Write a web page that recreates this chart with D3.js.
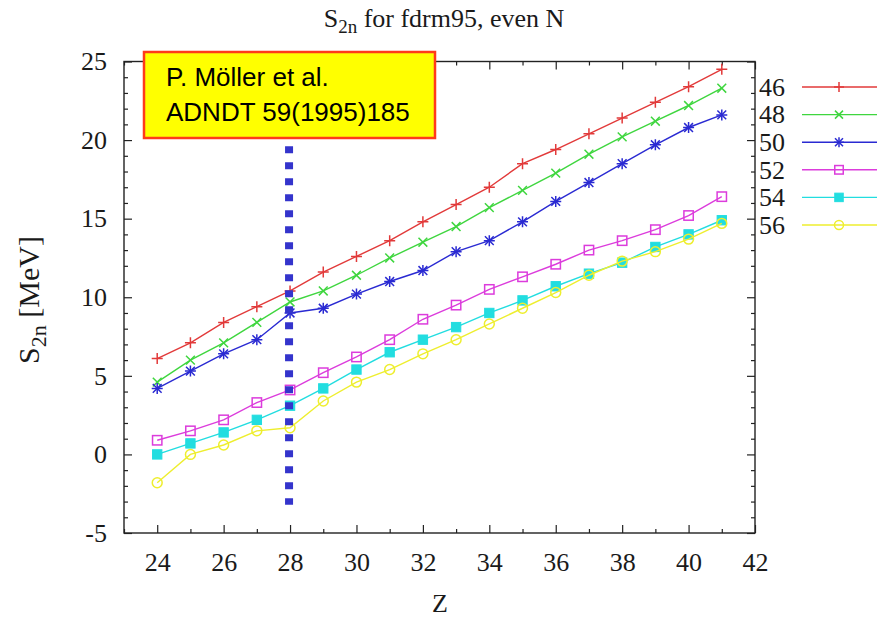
<!DOCTYPE html>
<html>
<head>
<meta charset="utf-8">
<script src="https://cdn.jsdelivr.net/npm/d3@7"></script>
<style>
  html, body { margin: 0; padding: 0; background: #ffffff; }
  svg { display: block; }
  .serif { font-family: "Liberation Serif", "DejaVu Serif", serif; fill: #1a1a1a; }
</style>
</head>
<body>
<svg id="chart" width="878" height="618"></svg>
<script>
// Proton number Z (even-N chains)
const zValues = [24, 25, 26, 27, 28, 29, 30, 31, 32, 33, 34, 35, 36, 37, 38, 39, 40, 41];

// Two-neutron separation energies S2n [MeV], FRDM95, one array per neutron number
const n46 = [6.1, 7.1, 8.4, 9.4, 10.4, 11.6, 12.6, 13.6, 14.8, 15.9, 17.0, 18.5, 19.4, 20.4, 21.4, 22.4, 23.4, 24.5];
const n48 = [4.6, 6.0, 7.1, 8.4, 9.7, 10.4, 11.4, 12.5, 13.5, 14.5, 15.7, 16.8, 17.9, 19.1, 20.2, 21.2, 22.2, 23.3];
const n50 = [4.2, 5.3, 6.4, 7.3, 9.0, 9.3, 10.2, 11.0, 11.7, 12.9, 13.6, 14.8, 16.1, 17.3, 18.5, 19.7, 20.8, 21.6];
const n52 = [0.9, 1.5, 2.2, 3.3, 4.1, 5.2, 6.2, 7.3, 8.6, 9.5, 10.5, 11.3, 12.1, 13.0, 13.6, 14.3, 15.2, 16.4];
const n54 = [0.0, 0.7, 1.4, 2.2, 3.1, 4.2, 5.4, 6.5, 7.3, 8.1, 9.0, 9.8, 10.7, 11.5, 12.2, 13.2, 14.0, 14.9];
const n56 = [-1.8, 0.0, 0.6, 1.5, 1.7, 3.4, 4.6, 5.4, 6.4, 7.3, 8.3, 9.3, 10.3, 11.4, 12.3, 12.9, 13.7, 14.7];

const seriesLabels = ["46", "48", "50", "52", "54", "56"];
const seriesValues = [n46, n48, n50, n52, n54, n56];

// Axis ticks
const xMajorTicks = [24, 26, 28, 30, 32, 34, 36, 38, 40, 42];
const xMinorTicks = [23, 25, 27, 29, 31, 33, 35, 37, 39, 41];
const yMajorTicks = [-5, 0, 5, 10, 15, 20, 25];
const yMinorTicks = [-4, -3, -2, -1, 1, 2, 3, 4, 6, 7, 8, 9, 11, 12, 13, 14, 16, 17, 18, 19, 21, 22, 23, 24];

// Marked proton number (vertical dotted marker) and its extent in MeV
const markerZ = 28;
const markerRange = [-3.2, 19.6];

const titleMain = "S";
const titleSub = "2n";
const titleRest = " for fdrm95, even N";
const refLines = ["P. Möller et al.", "ADNDT 59(1995)185"];

// ---- styling ----
const colors = ["#e23a3a", "#3fd63f", "#2a2ad2", "#dc3cdc", "#22dde0", "#eeee2e"];
const symbols = ["plus", "cross", "star", "square", "squareFilled", "circle"];
const FONT = 26;

const svg = d3.select("#chart");
const plot = { left: 124, right: 755, top: 61.5, bottom: 533 };

const x = d3.scaleLinear().domain([23, 42]).range([plot.left, plot.right]);
const y = d3.scaleLinear().domain([-5, 25]).range([plot.bottom, plot.top]);

const plainNumber = d => String(d);

// ---- axes (ticks inward, mirrored on top/right) ----
function styleAxis(g) {
  g.select(".domain").remove();
  g.selectAll(".tick line").attr("stroke", "#222").attr("stroke-width", 1.2);
  g.selectAll(".tick text")
    .attr("class", "serif")
    .style("font-family", "'Liberation Serif', 'DejaVu Serif', serif")
    .style("font-size", FONT + "px")
    .attr("fill", "#1a1a1a");
}

svg.append("g").attr("transform", `translate(0,${plot.bottom})`)
  .call(d3.axisBottom(x).tickValues(xMajorTicks).tickSizeInner(-8).tickSizeOuter(0).tickPadding(20).tickFormat(plainNumber))
  .call(styleAxis);
svg.append("g").attr("transform", `translate(0,${plot.bottom})`)
  .call(d3.axisBottom(x).tickValues(xMinorTicks).tickSizeInner(-4).tickSizeOuter(0).tickFormat(""))
  .call(styleAxis);
svg.append("g").attr("transform", `translate(0,${plot.top})`)
  .call(d3.axisTop(x).tickValues(xMajorTicks).tickSizeInner(-8).tickSizeOuter(0).tickFormat(""))
  .call(styleAxis);
svg.append("g").attr("transform", `translate(0,${plot.top})`)
  .call(d3.axisTop(x).tickValues(xMinorTicks).tickSizeInner(-4).tickSizeOuter(0).tickFormat(""))
  .call(styleAxis);

svg.append("g").attr("transform", `translate(${plot.left},0)`)
  .call(d3.axisLeft(y).tickValues(yMajorTicks).tickSizeInner(-8).tickSizeOuter(0).tickPadding(17).tickFormat(plainNumber))
  .call(styleAxis);
svg.append("g").attr("transform", `translate(${plot.left},0)`)
  .call(d3.axisLeft(y).tickValues(yMinorTicks).tickSizeInner(-4).tickSizeOuter(0).tickFormat(""))
  .call(styleAxis);
svg.append("g").attr("transform", `translate(${plot.right},0)`)
  .call(d3.axisRight(y).tickValues(yMajorTicks).tickSizeInner(-8).tickSizeOuter(0).tickFormat(""))
  .call(styleAxis);
svg.append("g").attr("transform", `translate(${plot.right},0)`)
  .call(d3.axisRight(y).tickValues(yMinorTicks).tickSizeInner(-4).tickSizeOuter(0).tickFormat(""))
  .call(styleAxis);

// frame
svg.append("rect")
  .attr("x", plot.left).attr("y", plot.top)
  .attr("width", plot.right - plot.left).attr("height", plot.bottom - plot.top)
  .attr("fill", "none").attr("stroke", "#222").attr("stroke-width", 1.4);

// ---- point symbols ----
function drawSymbol(g, type, cx, cy, color, s) {
  const h = s / 2;
  if (type === "plus" || type === "star") {
    g.append("path").attr("d", `M${cx - h},${cy}H${cx + h}M${cx},${cy - h}V${cy + h}`)
      .attr("stroke", color).attr("stroke-width", 1.5).attr("fill", "none");
  }
  if (type === "cross" || type === "star") {
    const d = h * 0.8;
    g.append("path").attr("d", `M${cx - d},${cy - d}L${cx + d},${cy + d}M${cx - d},${cy + d}L${cx + d},${cy - d}`)
      .attr("stroke", color).attr("stroke-width", 1.5).attr("fill", "none");
  }
  if (type === "square") {
    g.append("rect").attr("x", cx - h * 0.85).attr("y", cy - h * 0.85)
      .attr("width", h * 1.7).attr("height", h * 1.7)
      .attr("fill", "none").attr("stroke", color).attr("stroke-width", 1.5);
  }
  if (type === "squareFilled") {
    g.append("rect").attr("x", cx - h * 0.85).attr("y", cy - h * 0.85)
      .attr("width", h * 1.7).attr("height", h * 1.7)
      .attr("fill", color).attr("stroke", color).attr("stroke-width", 1);
  }
  if (type === "circle") {
    g.append("circle").attr("cx", cx).attr("cy", cy).attr("r", h * 0.9)
      .attr("fill", "none").attr("stroke", color).attr("stroke-width", 1.5);
  }
}

// ---- series ----
const line = d3.line().x(d => x(d[0])).y(d => y(d[1]));
const seriesG = svg.append("g");
seriesValues.forEach((vals, i) => {
  const pts = zValues.map((z, k) => [z, vals[k]]);
  const g = seriesG.append("g");
  g.append("path").datum(pts).attr("d", line)
    .attr("fill", "none").attr("stroke", colors[i]).attr("stroke-width", 1.4);
  pts.forEach(p => drawSymbol(g, symbols[i], x(p[0]), y(p[1]), colors[i], 11));
});

// ---- legend (labels sit just right of the frame) ----
const legendTop = 87, legendStep = 27.6;
seriesLabels.forEach((lab, i) => {
  const ly = legendTop + i * legendStep;
  svg.append("text").attr("class", "serif")
    .attr("x", 785).attr("y", ly).attr("dy", "0.34em")
    .attr("text-anchor", "end").style("font-size", FONT + "px").text(lab);
  svg.append("line").attr("x1", 802).attr("x2", 877).attr("y1", ly).attr("y2", ly)
    .attr("stroke", colors[i]).attr("stroke-width", 1.4);
  drawSymbol(svg, symbols[i], 839, ly, colors[i], 10);
});

// ---- vertical dotted marker at Z = 28 ----
svg.append("line")
  .attr("x1", x(markerZ) - 1).attr("x2", x(markerZ) - 1)
  .attr("y1", y(markerRange[1])).attr("y2", y(markerRange[0]))
  .attr("stroke", "#3434cc").attr("stroke-width", 8)
  .attr("stroke-dasharray", "7,9");

// ---- reference box ----
svg.append("rect")
  .attr("x", 144).attr("y", 52).attr("width", 291).attr("height", 86)
  .attr("fill", "#ffff00").attr("stroke", "#ff3b1a").attr("stroke-width", 2.5);
refLines.forEach((t, i) => {
  svg.append("text")
    .attr("x", 166).attr("y", 86 + i * 35)
    .style("font-family", "'Liberation Sans', Arial, sans-serif")
    .style("font-size", "26px").attr("fill", "#000").text(t);
});

// ---- title ----
const title = svg.append("text").attr("class", "serif")
  .attr("x", 444).attr("y", 27).attr("text-anchor", "middle")
  .style("font-size", FONT + "px");
title.append("tspan").text(titleMain);
title.append("tspan").attr("dy", 6).style("font-size", "19px").text(titleSub);
title.append("tspan").attr("dy", -6).text(titleRest);

// ---- axis titles ----
svg.append("text").attr("class", "serif")
  .attr("x", 440).attr("y", 612).attr("text-anchor", "middle")
  .style("font-size", FONT + "px").text("Z");

const yl = svg.append("text").attr("class", "serif")
  .attr("transform", "translate(39,300) rotate(-90)")
  .attr("text-anchor", "middle").style("font-size", "30px");
yl.append("tspan").text("S");
yl.append("tspan").attr("dy", 7).style("font-size", "22px").text("2n");
yl.append("tspan").attr("dy", -7).text(" [MeV]");
</script>
</body>
</html>
